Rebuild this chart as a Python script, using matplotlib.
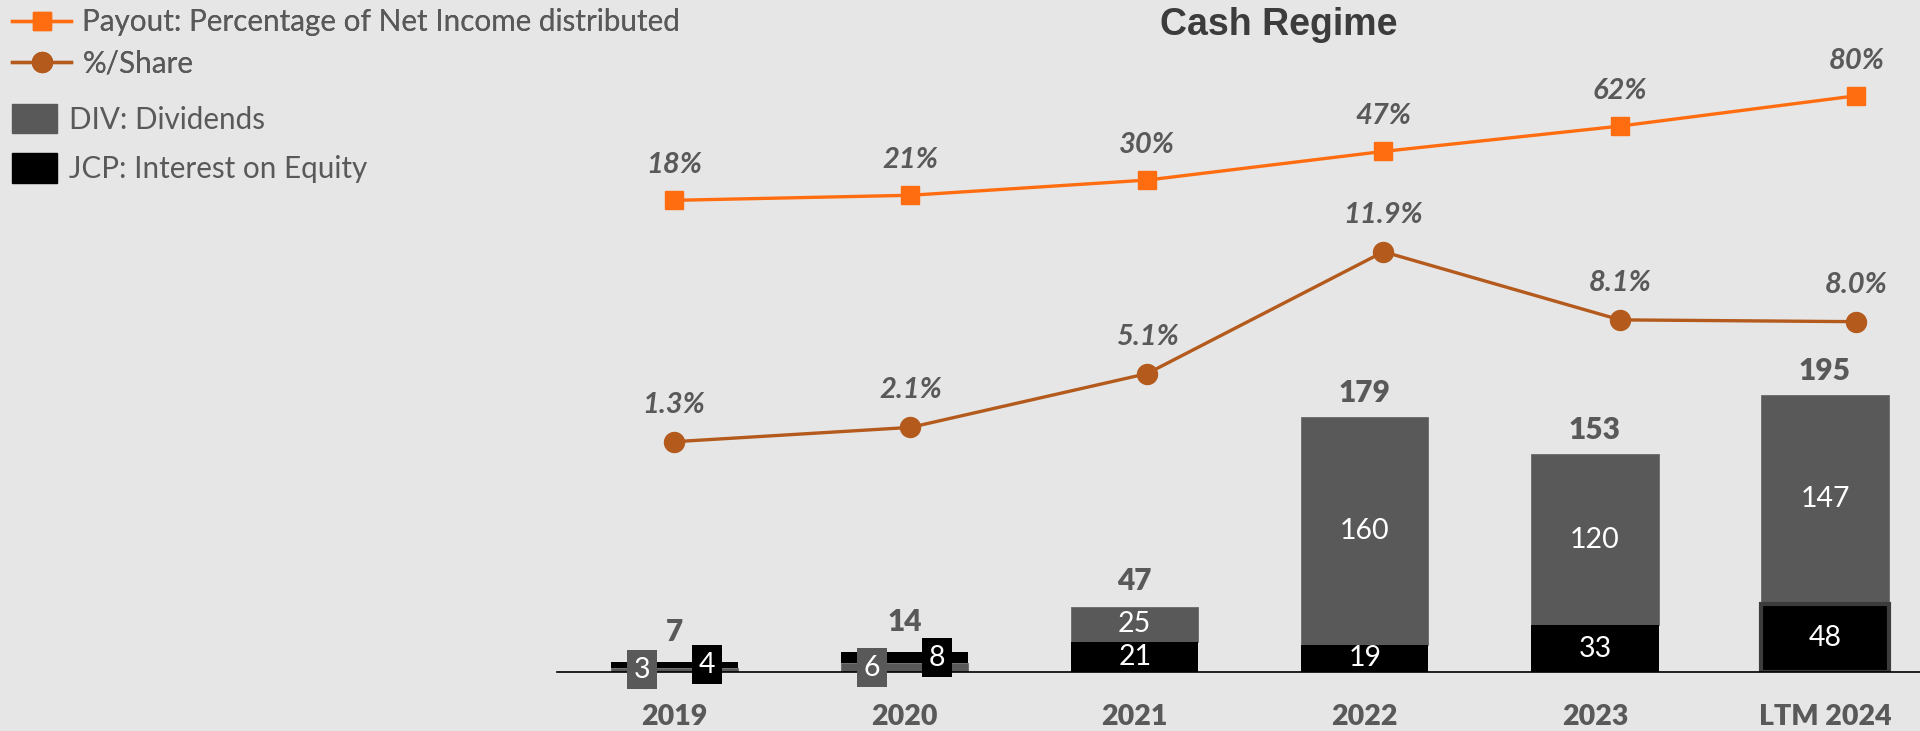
import matplotlib
matplotlib.use('Agg')
import matplotlib.pyplot as plt
from matplotlib.lines import Line2D
from matplotlib.patches import Patch

# ---------------- data ----------------
categories = ['2019', '2020', '2021', '2022', '2023', 'LTM 2024']
div = [3, 6, 25, 160, 120, 147]          # DIV: Dividends
jcp = [4, 8, 21, 19, 33, 48]             # JCP: Interest on Equity
totals = [7, 14, 47, 179, 153, 195]
payout = [18, 21, 30, 47, 62, 80]        # % of net income distributed
per_share = [1.3, 2.1, 5.1, 11.9, 8.1, 8.0]
jcp_on_top = [True, True, False, False, False, False]

# ---------------- style ----------------
BG = '#E6E6E6'
GRAY = '#595959'
BLACK = '#000000'
ORANGE = '#FF6D10'
BROWN = '#B35A1C'
LBL = '#595959'
FONT = 'Lato'

plt.rcParams['font.family'] = [FONT, 'DejaVu Sans']

W, H = 1920, 731
fig = plt.figure(figsize=(W / 100, H / 100), dpi=100, facecolor=BG)
rect = [557 / W, 59 / H, 1 - 557 / W, 672 / H]

# ---- bars ----
ax = fig.add_axes(rect)
ax.set_facecolor('none')
ax.set_xlim(-0.5106, 5.4128)
ax.set_ylim(0, 472.6)
for s in ['top', 'right', 'left']:
    ax.spines[s].set_visible(False)
ax.spines['bottom'].set_color('black')
ax.spines['bottom'].set_linewidth(1.2)
ax.spines['bottom'].set_zorder(5)
ax.set_yticks([])
x = list(range(len(categories)))
ax.set_xticks(x)
ax.set_xticklabels(categories, fontsize=20.5, fontweight='heavy', color=LBL)
ax.tick_params(axis='x', length=0, pad=23)

div_bottom = [j if not top else 0 for j, top in zip(jcp, jcp_on_top)]
jcp_bottom = [d if top else 0 for d, top in zip(div, jcp_on_top)]
bw = 0.553
edge_c = ['none'] * 5 + ['#3C3C3C']
edge_w = [0] * 5 + [3]
ax.bar(x, div, bottom=div_bottom, width=bw, color=GRAY, edgecolor='#6A6A6A', linewidth=0.6, zorder=2)
ax.bar(x, jcp, bottom=jcp_bottom, width=bw, color=BLACK, edgecolor=edge_c, linewidth=edge_w, zorder=3)

for i in x:
    small = div[i] < 10 or jcp[i] < 10
    for val, bot, col, side in [(div[i], div_bottom[i], GRAY, -1), (jcp[i], jcp_bottom[i], BLACK, 1)]:
        yc = bot + val / 2
        if small:
            ax.annotate(f'{val}', (i, yc), xytext=(side * 32.5, 0), textcoords='offset pixels',
                        ha='center', va='center', fontsize=20.5, color='white', zorder=6,
                        bbox=dict(boxstyle='square,pad=0.23', fc=col, ec='none'))
        else:
            ax.annotate(f'{val}', (i, yc), ha='center', va='center', fontsize=20.5, color='white', zorder=6)
    ax.annotate(f'{totals[i]}', (i, totals[i]), xytext=(0, 30 if small else 24), textcoords='offset pixels',
                ha='center', va='center', fontsize=21.5, fontweight='heavy', color=LBL)

# ---- lines ----
ax2 = fig.add_axes(rect)
ax2.set_facecolor('none')
ax2.axis('off')
ax2.set_xlim(-0.4947, 5.2685)
ax2.set_ylim(-261.6, 136.75)
ax2.plot(x, payout, color=ORANGE, lw=2.4, marker='s', markersize=12.5, zorder=4)
for i in x:
    ax2.annotate(f'{payout[i]:.0f}%', (i, payout[i]), xytext=(0, 35), textcoords='offset pixels',
                 ha='center', va='center', fontsize=21, fontweight='bold', fontstyle='italic', color=LBL)

ax3 = fig.add_axes(rect)
ax3.set_facecolor('none')
ax3.axis('off')
ax3.set_xlim(-0.4947, 5.2685)
ax3.set_ylim(-11.55, 25.95)
ax3.plot(x, per_share, color=BROWN, lw=2.4, marker='o', markersize=14.4, zorder=4)
for i in x:
    ax3.annotate(f'{per_share[i]:.1f}%', (i, per_share[i]), xytext=(0, 37), textcoords='offset pixels',
                 ha='center', va='center', fontsize=21, fontweight='bold', fontstyle='italic', color=LBL)

# ---- title ----
fig.text(1279 / W, 1 - 25 / H, 'Cash Regime', ha='center', va='center', fontsize=27,
         fontweight='bold', family='Liberation Sans', color='#3C3C3C')

# ---- legends ----
h1 = [Line2D([], [], color=ORANGE, lw=2.4, marker='s', markersize=12.5),
      Line2D([], [], color=BROWN, lw=2.4, marker='o', markersize=14.4)]
leg1 = fig.legend(h1, ['Payout: Percentage of Net Income distributed', '%/Share'],
                  loc='upper left', bbox_to_anchor=(12 / W, 1 - 8 / H), bbox_transform=fig.transFigure,
                  frameon=False, fontsize=21.3, borderpad=0, borderaxespad=0, handlelength=2.0,
                  handletextpad=0.38, labelspacing=0.45, numpoints=1, labelcolor=LBL)
h2 = [Patch(color=GRAY), Patch(color=BLACK)]
leg2 = fig.legend(h2, ['DIV: Dividends', 'JCP: Interest on Equity'],
                  loc='upper left', bbox_to_anchor=(12 / W, 1 - 104 / H), bbox_transform=fig.transFigure,
                  frameon=False, fontsize=21.3, borderpad=0, borderaxespad=0, handlelength=1.52,
                  handleheight=1.15, handletextpad=0.42, labelspacing=0.66, labelcolor=LBL)
fig.add_artist(leg1)

fig.savefig('out.png', dpi=100, facecolor=BG)
